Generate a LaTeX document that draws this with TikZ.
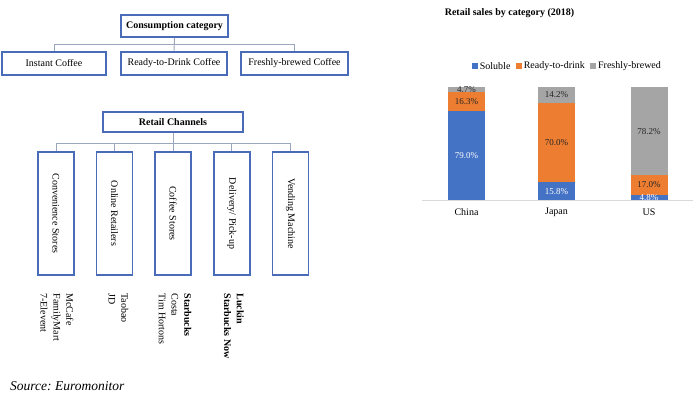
\documentclass[tikz,border=0pt]{standalone}
\usepackage{fontspec}
\setmainfont{Liberation Serif}
\usepackage{xcolor}
\usepackage{tikz}
\usetikzlibrary{positioning}
\definecolor{BoxBlue}{HTML}{4A6BB8}
\definecolor{LinkGrey}{HTML}{9AA5BE}
\definecolor{SolBlue}{HTML}{4472C4}
\definecolor{RtdOrange}{HTML}{ED7D31}
\definecolor{FreshGrey}{HTML}{A5A5A5}
\definecolor{AxisGrey}{HTML}{D9D9D9}
\frenchspacing

\begin{document}
\begin{tikzpicture}[x=1pt,y=-1pt,
  catbox/.style={draw=BoxBlue,line width=1.6pt,fill=white,inner sep=0pt,font=\fontsize{10}{12}\selectfont},
  chanbox/.style={draw=BoxBlue,line width=1.6pt,fill=white,inner sep=0pt,minimum width=36pt,minimum height=123pt},
  link/.style={draw=LinkGrey,line width=0.9pt},
  vtext/.style={rotate=-90,font=\fontsize{10}{12}\selectfont},
  brand/.style={rotate=-90,anchor=west,align=left,font=\fontsize{10}{12.8}\selectfont},
  pct/.style={font=\fontsize{9}{10}\selectfont,inner sep=0pt}]
\useasboundingbox (0,0) rectangle (700,396);

% consumption tree
\node[catbox,minimum width=107pt,minimum height=22pt,font=\fontsize{10}{12}\selectfont\bfseries] (cons) at (174.5,26) {Consumption category};
\node[catbox,minimum width=104pt,minimum height=23pt] (inst) at (54,63.5) {Instant Coffee};
\node[catbox,minimum width=106pt,minimum height=23pt] (rtd) at (174,63.5) {Ready-to-Drink Coffee};
\node[catbox,minimum width=107pt,minimum height=23pt] (fresh) at (294.5,63.5) {Freshly-brewed Coffee};
\draw[link] (cons.south) -- ++(0,7) -| (inst.north);
\draw[link] (cons.south) -- ++(0,7) -| (fresh.north);
\draw[link] (cons.south) -- (rtd.north);

% retail channels
\node[catbox,minimum width=140pt,minimum height=20pt,font=\fontsize{10}{12}\selectfont\bfseries] (retail) at (173,122) {Retail Channels};
\node[chanbox] (conv) at (56,213.5) {};
\node[chanbox,right=21pt of conv] (online) {};
\node[chanbox,right=21pt of online] (cstore) {};
\node[chanbox,right=21pt of cstore] (deliv) {};
\node[chanbox,right=21pt of deliv] (vend) {};
\node[vtext] at (conv.center) {Convenience Stores};
\node[vtext] at (online.center) {Online Retailers};
\node[vtext] at (cstore.center) {Coffee Stores};
\node[vtext] at (deliv.center) {Delivery/ Pick-up};
\node[vtext] at (vend.center) {Vending Machine};
\foreach \c in {conv,online,cstore,deliv,vend}
  \draw[link] (retail.south) -- ++(0,11) -| (\c.north);

% brands under channels
\node[brand] (convlist) at (57,290) {McCafe\\FamilyMart\\7-Elevent};
\node[brand] (onlinelist) at (118.5,290) {Taobao\\JD};
\node[brand] (cstorelist) at (175,290) {\textbf{Starbucks}\\Costa\\Tim Hortons};
\node[brand] (delivlist) at (234,290) {\textbf{Luckin}\\\textbf{Starbucks Now}};

\node[anchor=west,font=\fontsize{13.5}{15}\selectfont\itshape,inner sep=0pt] (src) at (10,386) {Source: Euromonitor};

% bar chart
\node[font=\fontsize{10}{12}\selectfont\bfseries] (title) at (509.5,13) {Retail sales by category (2018)};
\node[fill=SolBlue,inner sep=0pt,minimum size=6pt] (lsol) at (475,66) {};
\node[right=1.5pt of lsol,inner sep=0pt,font=\fontsize{10}{12}\selectfont] (tsol) {Soluble};
\node[fill=RtdOrange,inner sep=0pt,minimum size=6pt,right=5pt of tsol] (lrtd) {};
\node[right=1.5pt of lrtd,inner sep=0pt,font=\fontsize{10}{12}\selectfont] (trtd) {Ready-to-drink};
\node[fill=FreshGrey,inner sep=0pt,minimum size=6pt,right=5pt of trtd] (lfresh) {};
\node[right=1.5pt of lfresh,inner sep=0pt,font=\fontsize{10}{12}\selectfont] (tfresh) {Freshly-brewed};

\draw[AxisGrey,line width=0.8pt] (422,200) -- (693,200);
\foreach \x/\lab/\s/\r/\f in {448/China/79.0/16.3/4.7, 538/Japan/15.8/70.0/14.2, 630.5/US/4.8/17.0/78.2}{
  \pgfmathsetmacro{\ya}{200-1.13*\s}
  \pgfmathsetmacro{\yb}{\ya-1.13*\r}
  \fill[SolBlue] (\x,200) rectangle (\x+37,\ya);
  \fill[RtdOrange] (\x,\ya) rectangle (\x+37,\yb);
  \fill[FreshGrey] (\x,\yb) rectangle (\x+37,87);
  \node[pct,text=white] at (\x+18.5,{(200+\ya)/2}) {\s\%};
  \node[pct,text=black!85] at (\x+18.5,{(\ya+\yb)/2}) {\r\%};
  \node[pct,text=black!85] at (\x+18.5,{(\yb+87)/2}) {\f\%};
  \node[font=\fontsize{10}{12}\selectfont] at (\x+18.5,212) {\lab};
}
\end{tikzpicture}
\end{document}
